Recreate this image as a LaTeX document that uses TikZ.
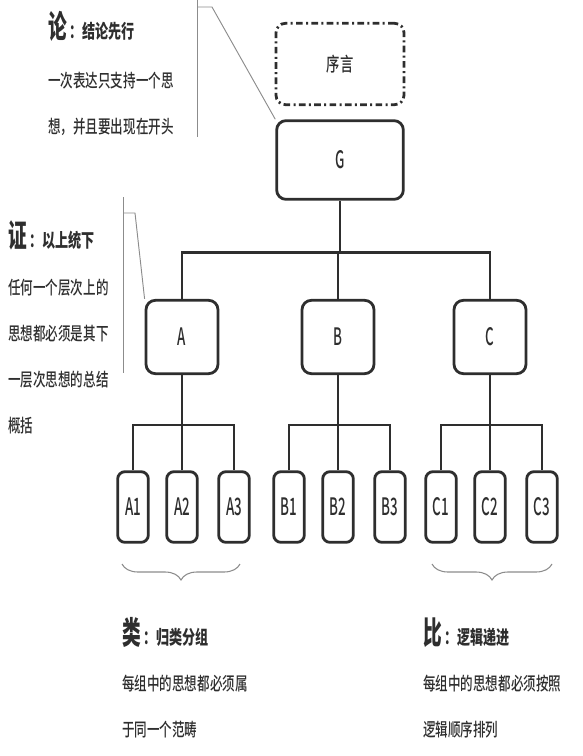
\documentclass[tikz,border=0pt]{standalone}
\usepackage{fontspec}
\setmainfont{Noto Sans CJK SC}
\newfontfamily\Moyen{Noto Sans CJK SC Medium}
\usetikzlibrary{decorations.pathreplacing}
\definecolor{trait}{HTML}{2E2E2E}
\definecolor{gris}{HTML}{8C8C8C}
\newcommand{\Haut}[2][1.45]{\scalebox{1}[#1]{#2}}
\newcommand{\Titre}[2]{\Haut[1.7]{\bfseries\fontsize{14}{14}\selectfont #1}\,\Haut[1.45]{\bfseries\fontsize{9.8}{11}\selectfont ：#2}}

\begin{document}
\begin{tikzpicture}[x=0.75pt,y=-0.75pt,
	boite/.style={draw=trait,line width=2.1pt,rounded corners=7pt,inner sep=0,text=trait,font=\Moyen\fontsize{10}{10}\selectfont},
	liaison/.style={draw=trait,line width=1.9pt},
	fil/.style={draw=gris,line width=0.7pt},
	accolade/.style={draw=gris,line width=0.8pt,decorate,decoration={brace,mirror,amplitude=12pt}},
	texte/.style={anchor=base west,inner sep=0,text=trait,font=\Moyen\fontsize{9.4}{11}\selectfont}]
	\useasboundingbox (0,0) rectangle (582,756);
	
	%Boites du haut
	\node[boite,dash pattern=on 5pt off 2.5pt on 1.5pt off 2.5pt,minimum width=96pt,minimum height=61pt] (preface) at (340,64) {\Haut{序言}};
	\node[boite,minimum width=95pt,minimum height=59pt] (G) at (340,160) {\Haut[1.8]{G}};
	
	%Niveau A B C
	\foreach \g/\gx in {A/182,B/338,C/490}{
		\node[boite,minimum width=54pt,minimum height=55pt] (\g) at (\gx,337) {\Haut[1.8]{\g}};
		\foreach \i/\dx in {1/-49,2/0,3/52}{
			\node[boite,rounded corners=5.5pt,minimum width=23pt,minimum height=53pt] (\g\i) at ({\gx+\dx},507) {\Haut[1.8]{\g\i}};
		}
	}
	
	%Liaisons
	\draw[liaison] (G.south) -- ++(0,52) coordinate (Gbar);
	\draw[liaison] (A.north) |- (Gbar) -| (C.north);
	\draw[liaison] (B.north) -- (B.north |- Gbar);
	\foreach \g in {A,B,C}{
		\draw[liaison] (\g.south) -- ++(0,50) coordinate (\g bar);
		\draw[liaison] (\g1.north) |- (\g bar) -| (\g3.north);
		\draw[liaison] (\g2.north) -- (\g bar);
	}
	
	%Reperes gris
	\coordinate (lunHaut) at (197,0);
	\coordinate (lunBas) at (197,137);
	\coordinate (lunCoude) at (212,7);
	\draw[fil] (lunHaut) -- (lunBas);
	\draw[fil] (lunHaut |- lunCoude) -- (lunCoude) -- (G.north west);
	\coordinate (zhengHaut) at (123,197);
	\coordinate (zhengBas) at (123,373);
	\coordinate (zhengCoude) at (135,213);
	\draw[fil] (zhengHaut) -- (zhengBas);
	\draw[fil] (zhengHaut |- zhengCoude) -- (zhengCoude) -- (A.north west);
	
	%Accolades
	\draw[accolade] (122,564) -- (240,564);
	\draw[accolade] (432,564) -- (552,564);
	
	%Textes
	\node[texte] (lun) at (48,39) {\Titre{论}{结论先行}};
	\foreach \t [count=\k] in {一次表达只支持一个思,想，并且要出现在开头}
		\node[texte] (lun\k) at (48,{42+46*\k}) {\Haut{\t}};
	
	\node[texte] (zheng) at (8,247) {\Titre{证}{以上统下}};
	\foreach \t [count=\k] in {任何一个层次上的,思想都必须是其下,一层次思想的总结,概括}
		\node[texte] (zheng\k) at (8,{248+46*\k}) {\Haut{\t}};
	
	\node[texte] (lei) at (122,644) {\Titre{类}{归类分组}};
	\foreach \t [count=\k] in {每组中的思想都必须属,于同一个范畴}
		\node[texte] (lei\k) at (122,{644+46*\k}) {\Haut{\t}};
	
	\node[texte] (bi) at (423,644) {\Titre{比}{逻辑递进}};
	\foreach \t [count=\k] in {每组中的思想都必须按照,逻辑顺序排列}
		\node[texte] (bi\k) at (423,{644+46*\k}) {\Haut{\t}};
	
\end{tikzpicture}
\end{document}
